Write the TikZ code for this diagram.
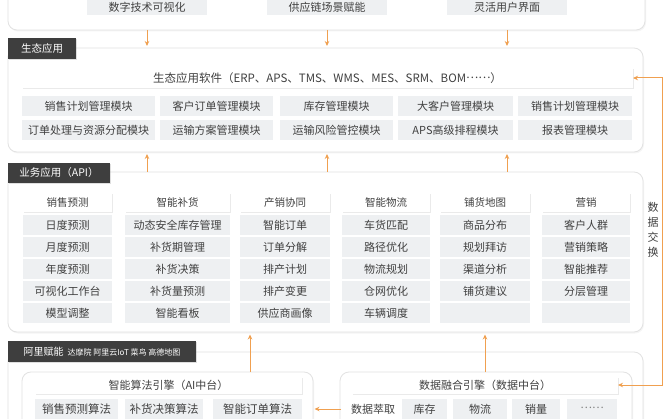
\documentclass[tikz,border=0pt]{standalone}
\usepackage{fontspec}
\setmainfont{Noto Sans CJK SC}
\usetikzlibrary{shadows,arrows.meta}
\definecolor{txt}{HTML}{404040}
\definecolor{cellg}{HTML}{EEF0F2}
\definecolor{tagc}{HTML}{3E3E3E}
\definecolor{orng}{HTML}{F0A050}
\definecolor{pbord}{HTML}{E2E2E2}
\tikzset{
  base/.style={inner sep=0pt, outer sep=0pt, text=txt, font=\fontsize{11}{13}\selectfont},
  panel/.style={base, draw=pbord, line width=0.8pt, fill=white, rounded corners=9pt,
    drop shadow={opacity=0.08, shadow xshift=1pt, shadow yshift=-1.5pt}},
  tag/.style={base, fill=tagc, text=white, font=\fontsize{10.5}{12}\selectfont,
    drop shadow={opacity=0.25, shadow xshift=1.2pt, shadow yshift=-1.2pt}},
  cell/.style={base, fill=cellg, minimum height=20pt},
  bar/.style={base, fill=white, minimum height=20pt,
    drop shadow={opacity=0.16, shadow xshift=1.2pt, shadow yshift=-1.5pt}},
  colhead/.style={bar, minimum height=19pt, font=\fontsize{10.5}{12}\selectfont},
  arr/.style={draw=orng, line width=1pt, -{Stealth[length=5pt,width=4.5pt]}},
  darr/.style={draw=orng, line width=1pt, {Stealth[length=5pt,width=4.5pt]}-{Stealth[length=5pt,width=4.5pt]}}
}
\newcommand{\mydots}{\raisebox{0.3em}{……}}
\begin{document}
\begin{tikzpicture}[x=1pt,y=-1pt]
\useasboundingbox (0,0) rectangle (671,419);
\clip (0,0) rectangle (671,419);
\fill[white] (0,0) rectangle (671,419);

% panels
\node[panel, minimum width=637pt, minimum height=52pt] (p1) at (326.5,4) {};
\node[panel, minimum width=635pt, minimum height=104pt] (p2) at (325.5,100) {};
\node[panel, minimum width=635pt, minimum height=160pt] (p3) at (325.5,252) {};
\node[panel, minimum width=635pt, minimum height=100pt] (p4) at (325.5,402) {};
\node[panel, minimum width=291pt, minimum height=80pt] (ai) at (167.5,412) {};
\node[panel, minimum width=292pt, minimum height=80pt] (dp) at (486,412) {};

% top boxes
\node[cell, minimum width=120pt, minimum height=26pt] (t1) at (147,2) {};
\node[cell, minimum width=120pt, minimum height=26pt] (t2) at (327,2) {};
\node[cell, minimum width=120pt, minimum height=26pt] (t3) at (507,2) {};
\node[base] (t1t) at (147,7) {数字技术可视化};
\node[base] (t2t) at (327,7) {供应链场景赋能};
\node[base] (t3t) at (507,7) {灵活用户界面};

% section tags
\node[tag, minimum width=68pt, minimum height=21pt] (l1) at (42,48.5) {生态应用};
\node[tag, minimum width=102pt, minimum height=20pt] (l2) at (59,173) {业务应用（API）};
\node[tag, minimum width=188pt, minimum height=21pt] (l3) at (102,351.5)
  {\fontsize{10}{11}\selectfont 阿里赋能\, \fontsize{8}{9}\selectfont 达摩院 阿里云IoT 菜鸟 高德地图};

% ecosystem apps
\node[bar, minimum width=611pt, font=\fontsize{11.5}{13}\selectfont] (erp) at (327.5,78) {生态应用软件（ERP、APS、TMS、WMS、MES、SRM、BOM\mydots）};
\node[cell, minimum width=133pt] (m11) at (88.5,106) {销售计划管理模块};
\node[cell, minimum width=113pt] (m12) at (216.5,106) {客户订单管理模块};
\node[cell, minimum width=113pt] (m13) at (336.5,106) {库存管理模块};
\node[cell, minimum width=115pt] (m14) at (455.5,106) {大客户管理模块};
\node[cell, minimum width=114pt] (m15) at (575,106) {销售计划管理模块};
\node[cell, minimum width=133pt] (m21) at (88.5,130) {订单处理与资源分配模块};
\node[cell, minimum width=113pt] (m22) at (216.5,130) {运输方案管理模块};
\node[cell, minimum width=113pt] (m23) at (336.5,130) {运输风险管控模块};
\node[cell, minimum width=115pt] (m24) at (455.5,130) {APS高级排程模块};
\node[cell, minimum width=114pt] (m25) at (575,130) {报表管理模块};

% business apps
\node[colhead, minimum width=89pt] (h1) at (67.5,202.5) {销售预测};
\node[colhead, minimum width=105pt] (h2) at (177.5,202.5) {智能补货};
\node[colhead, minimum width=90pt] (h3) at (285,202.5) {产销协同};
\node[colhead, minimum width=88pt] (h4) at (386,202.5) {智能物流};
\node[colhead, minimum width=90pt] (h5) at (485,202.5) {铺货地图};
\node[colhead, minimum width=88pt] (h6) at (586,202.5) {营销};
\foreach \t [count=\i] in {日度预测,月度预测,年度预测,可视化工作台,模型调整}
  \node[cell, minimum width=89pt] (a\i) at (67.5,203+22*\i) {\t};
\foreach \t [count=\i] in {动态安全库存管理,补货期管理,补货决策,补货量预测,智能看板}
  \node[cell, minimum width=105pt] (b\i) at (177.5,203+22*\i) {\t};
\foreach \t [count=\i] in {智能订单,订单分解,排产计划,排产变更,供应商画像}
  \node[cell, minimum width=90pt] (c\i) at (285,203+22*\i) {\t};
\foreach \t [count=\i] in {车货匹配,路径优化,物流规划,仓网优化,车辆调度}
  \node[cell, minimum width=88pt] (d\i) at (386,203+22*\i) {\t};
\foreach \t [count=\i] in {商品分布,规划拜访,渠道分析,铺货建议,\phantom{口}}
  \node[cell, minimum width=90pt] (e\i) at (485,203+22*\i) {\t};
\foreach \t [count=\i] in {客户人群,营销策略,智能推荐,分层管理,\phantom{口}}
  \node[cell, minimum width=88pt] (f\i) at (586,203+22*\i) {\t};

% AI middle platform
\node[bar, minimum width=267pt, minimum height=17pt] (aih) at (168.5,385) {智能算法引擎（AI中台）};
\node[cell, minimum width=83pt, minimum height=21pt, font=\fontsize{11.5}{13}\selectfont] (g1) at (76.5,409) {销售预测算法};
\node[cell, minimum width=78pt, minimum height=21pt, font=\fontsize{11.5}{13}\selectfont] (g2) at (164,409) {补货决策算法};
\node[cell, minimum width=89pt, minimum height=21pt, font=\fontsize{11.5}{13}\selectfont] (g3) at (257.5,409) {智能订单算法};

% data middle platform
\node[bar, minimum width=266pt, minimum height=17pt] (dh) at (485,385) {数据融合引擎（数据中台）};
\node[base] (x0) at (373,409) {数据萃取};
\node[cell, minimum width=45pt, minimum height=21pt] (x1) at (424.5,409) {库存};
\node[cell, minimum width=54pt, minimum height=21pt] (x2) at (480,409) {物流};
\node[cell, minimum width=48pt, minimum height=21pt] (x3) at (536,409) {销量};
\node[cell, minimum width=50pt, minimum height=21pt, text=gray] (x4) at (592,409) {\mydots};

% data exchange label
\node[base, align=center, font=\fontsize{11}{15}\selectfont] (dx) at (653,230) {数\\据\\交\\换};

% arrows
\coordinate (k1) at (147,0);
\coordinate (k2) at (327,0);
\coordinate (k3) at (507,0);
\coordinate (k4) at (250,0);
\coordinate (k5) at (485,0);
\foreach \k in {k1,k2,k3} {
  \draw[arr, shorten >=2pt] (\k |- p1.south) -- (\k |- p2.north);
  \draw[arr, shorten >=2pt] (\k |- p3.north) -- (\k |- p2.south);
}
\draw[arr, shorten >=2.5pt] (k4 |- ai.north) -- (k4 |- p3.south);
\draw[arr, shorten >=2.5pt] (k5 |- dp.north) -- (k5 |- p3.south);
\coordinate (rt) at (662,78);
\coordinate (rb) at (662,385);
\draw[darr] (erp.east) -- (rt) -- (rb) -- (dh.east);
\coordinate (am) at (0,409);
\draw[arr, shorten >=1.5pt, shorten <=-1pt] (am -| dp.west) -- (am -| ai.east);
\end{tikzpicture}
\end{document}
